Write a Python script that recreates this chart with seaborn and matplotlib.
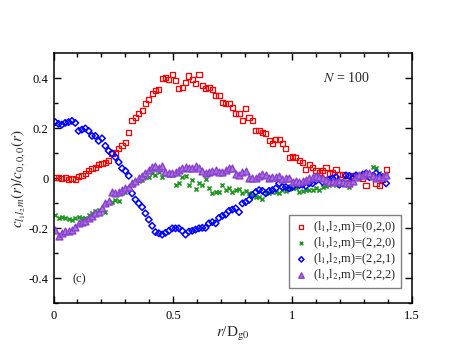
import numpy as np
import matplotlib
matplotlib.use("Agg")
import matplotlib.pyplot as plt
import seaborn as sns

# r / D_g0 sampling grid (100 bins)
r = np.round(0.007 + 0.014 * np.arange(100), 3)

# ratio c_{l1 l2 m}(r) / c_{000}(r)
c020 = [0.005, 0.002, 0.0, 0.003, -0.003, 0.0, -0.004, 0.008, 0.01, 0.02,
        0.03, 0.04, 0.045, 0.055, 0.06, 0.065, 0.07, 0.1, 0.105, 0.12,
        0.13, 0.145, 0.185, 0.23, 0.245, 0.26, 0.27, 0.30, 0.315, 0.34,
        0.35, 0.355, 0.40, 0.405, 0.395, 0.415, 0.39, 0.36, 0.365, 0.385,
        0.41, 0.395, 0.38, 0.415, 0.37, 0.36, 0.365, 0.355, 0.33, 0.33,
        0.305, 0.30, 0.30, 0.285, 0.26, 0.26, 0.23, 0.28, 0.245, 0.23,
        0.19, 0.19, 0.185, 0.18, 0.15, 0.14, 0.155, 0.155, 0.14, 0.12,
        0.085, 0.088, 0.085, 0.07, 0.065, 0.037, 0.056, 0.045, 0.03, 0.025,
        0.03, 0.045, 0.02, 0.025, 0.035, 0.015, 0.017, -0.007, -0.015, 0.013,
        0.01, 0.012, 0.0, -0.027, 0.008, 0.01, -0.02, -0.03, -0.003, 0.035]

c220 = [-0.147, -0.16, -0.155, -0.16, -0.163, -0.165, -0.16, -0.155, -0.16, -0.16,
        -0.147, -0.14, -0.13, -0.127, -0.127, -0.135, -0.1, -0.095, -0.087, -0.09,
        -0.06, -0.055, -0.04, -0.027, -0.015, -0.01, -0.007, 0.005, 0.005, 0.02,
        0.013, 0.025, 0.005, 0.017, 0.013, 0.013, -0.027, -0.02, 0.005, 0.01,
        -0.027, -0.007, -0.043, -0.02, -0.027, -0.003, -0.04, -0.06, -0.055, -0.055,
        -0.027, -0.047, -0.04, -0.055, -0.047, -0.043, -0.06, -0.05, -0.06, -0.065,
        -0.075, -0.075, -0.083, -0.06, -0.06, -0.055, -0.055, -0.06, -0.047, -0.05,
        -0.043, -0.04, -0.04, -0.055, -0.05, -0.047, -0.045, -0.047, -0.04, -0.045,
        -0.035, -0.03, -0.027, -0.02, -0.025, -0.015, -0.01, -0.02, -0.035, -0.01,
        0.005, 0.0, 0.01, 0.02, 0.015, 0.045, 0.04, 0.02, 0.01, 0.015]

c221 = [0.225, 0.218, 0.215, 0.222, 0.225, 0.23, 0.222, 0.19, 0.195, 0.2,
        0.19, 0.17, 0.17, 0.15, 0.16, 0.13, 0.11, 0.1, 0.085, 0.065,
        0.04, 0.03, 0.01, -0.06, -0.085, -0.1, -0.115, -0.14, -0.165, -0.19,
        -0.215, -0.22, -0.225, -0.218, -0.21, -0.2, -0.2, -0.2, -0.21, -0.225,
        -0.213, -0.21, -0.205, -0.2, -0.198, -0.198, -0.18, -0.175, -0.18, -0.158,
        -0.15, -0.145, -0.13, -0.125, -0.12, -0.135, -0.1, -0.095, -0.086, -0.067,
        -0.055, -0.047, -0.05, -0.06, -0.05, -0.047, -0.04, -0.02, -0.035, -0.035,
        -0.04, -0.035, -0.02, -0.027, -0.025, -0.03, -0.02, -0.02, -0.01, 0.0,
        -0.015, -0.01, -0.005, 0.0, 0.005, -0.025, -0.02, 0.012, 0.01, 0.0,
        0.012, 0.005, 0.015, 0.02, 0.005, 0.01, 0.02, 0.01, 0.005, -0.02]

c222 = [-0.205, -0.23, -0.22, -0.212, -0.21, -0.205, -0.195, -0.18, -0.175, -0.172,
        -0.16, -0.15, -0.14, -0.135, -0.12, -0.1, -0.09, -0.055, -0.06, -0.055,
        -0.047, -0.04, -0.035, -0.02, -0.01, 0.0, 0.01, 0.02, 0.033, 0.045,
        0.05, 0.04, 0.05, 0.025, 0.02, 0.02, 0.025, 0.033, 0.04, 0.045,
        0.04, 0.04, 0.05, 0.04, 0.03, 0.02, 0.025, 0.03, 0.033, 0.025,
        0.025, 0.033, 0.04, 0.04, 0.017, 0.013, 0.025, 0.03, 0.0, 0.0,
        0.0, 0.01, 0.017, 0.013, 0.0, 0.005, 0.005, 0.01, -0.003, 0.0,
        0.0, -0.015, -0.012, -0.015, -0.01, -0.005, 0.0, 0.005, 0.01, 0.005,
        0.0, -0.005, -0.015, -0.012, -0.015, -0.01, -0.015, -0.02, -0.02, -0.01,
        0.005, 0.013, 0.012, 0.02, 0.02, 0.01, 0.0, 0.005, 0.005, 0.013]

labels = ['(l$_1$,l$_2$,m)=(0,2,0)', '(l$_1$,l$_2$,m)=(2,2,0)',
          '(l$_1$,l$_2$,m)=(2,2,1)', '(l$_1$,l$_2$,m)=(2,2,2)']

sns.set_style("ticks")
plt.rcParams['font.family'] = ['Liberation Serif', 'DejaVu Serif']
plt.rcParams['mathtext.fontset'] = 'stix'
plt.rcParams['axes.unicode_minus'] = False

fig = plt.figure(figsize=(4.63, 3.58), dpi=100)
ax = fig.add_axes([0.1156, 0.1528, 0.7735, 0.698])

# open squares, crosses, open diamonds, triangles
sns.scatterplot(x=r, y=c020, marker='s', s=14, facecolors='none', edgecolor='#ff0000',
                linewidth=0.9, label=labels[0], ax=ax)
sns.scatterplot(x=r, y=c220, marker='x', s=9, color='#1f9a1f', edgecolor='#1f9a1f',
                linewidth=1.2, label=labels[1], ax=ax)
sns.scatterplot(x=r, y=c221, marker='D', s=11, facecolors='none', edgecolor='#0000ff',
                linewidth=1.1, label=labels[2], ax=ax)
sns.scatterplot(x=r, y=c222, marker='^', s=24, facecolors='#a873dc', edgecolor='#8a3fd0',
                linewidth=1.0, label=labels[3], ax=ax)

ax.set_xlim(0, 1.5)
ax.set_ylim(-0.5, 0.5)
ax.set_xticks([0, 0.5, 1, 1.5])
ax.set_xticklabels(['0', '0.5', '1', '1.5'])
ax.set_yticks([-0.4, -0.2, 0, 0.2, 0.4])
ax.set_yticklabels(['-0.4', '-0.2', '0', '0.2', '0.4'])
ax.set_xticks(np.arange(0.1, 1.5, 0.1), minor=True)
ax.set_yticks(np.arange(-0.5, 0.5, 0.1), minor=True)
ax.tick_params(which='both', direction='in', top=True, right=True, labelsize=9, width=1.0,
               colors='black')
ax.tick_params(which='major', length=5)
ax.tick_params(which='minor', length=3)
ax.tick_params(axis='x', pad=5)
for sp in ax.spines.values():
    sp.set_linewidth(1.1)
    sp.set_color('black')
    sp.set_visible(True)

ax.set_xlabel('$r$/D$_{\\rm g0}$', fontsize=11, labelpad=2)
ax.set_ylabel('$c_{l_1 l_2 m}(r)/c_{0,0,0}(r)$', fontsize=11, labelpad=1)

ax.text(1.225, 0.4, '$N$ = 100', fontsize=10, ha='center', va='center')
ax.text(0.11, -0.405, '(c)', fontsize=9, ha='center', va='center')

leg = ax.legend(loc='lower right', bbox_to_anchor=(0.977, 0.052), fontsize=9,
                frameon=True, fancybox=False, edgecolor='#808080', framealpha=1,
                handletextpad=0.3, labelspacing=0.05, borderpad=0.35, handlelength=1.3,
                markerscale=0.8, borderaxespad=0.2)
leg.get_frame().set_linewidth(1.0)

fig.savefig('out.png', dpi=100)
